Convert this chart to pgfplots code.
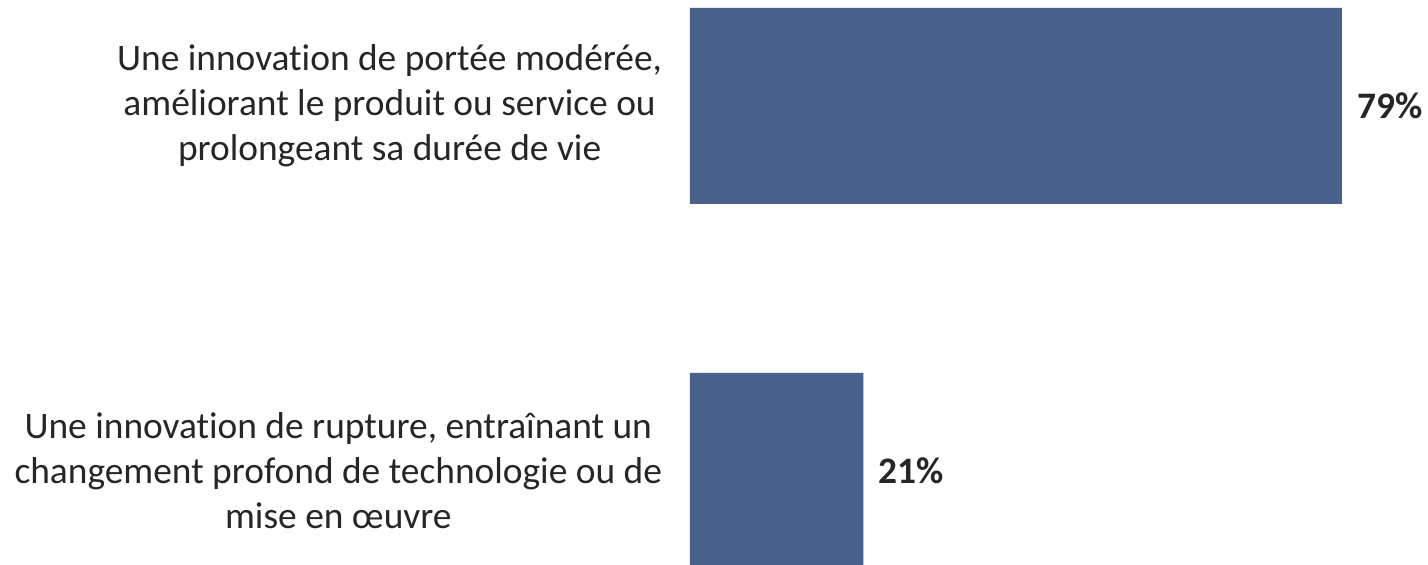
\documentclass[border=0pt]{standalone}
\usepackage{pgfplots}
\pgfplotsset{compat=1.18}
\usepackage{fontspec}
\setmainfont{Carlito}[RawFeature=-liga]
\definecolor{barblue}{HTML}{4A618B}
\definecolor{txt}{HTML}{262626}

\begin{document}
\begin{tikzpicture}
\begin{axis}[
  xbar, scale only axis,
  width=369pt, height=282pt,
  xmin=0, xmax=89.45,
  ymin=-0.29, ymax=1.255, y dir=reverse,
  axis line style={draw=none},
  tick style={draw=none},
  xtick=\empty,
  ytick={0,1},
  /pgf/number format/assume math mode=true,
  yticklabels={{Une innovation de portée modérée,\\améliorant le produit ou service ou\\prolongeant sa durée de vie},
               {Une innovation de rupture, entraînant un\\changement profond de technologie ou de\\mise en œuvre}},
  yticklabel style={align=center, text=txt, inner sep=0pt, xshift=-9.5pt,
    font=\fontsize{18.7}{22.5}\selectfont},
  bar width=0.537,
  nodes near coords={\pgfmathprintnumber{\pgfplotspointmeta}\%},
  every node near coord/.append style={anchor=west, inner sep=0pt, xshift=7.5pt,
    text=txt, font=\fontsize{18.7}{22.5}\selectfont\bfseries},
]
\addplot[fill=barblue, draw=none] coordinates {(79,0) (21,1)};
\end{axis}
\pgfresetboundingbox
\path (current axis.south west) ++(-345pt,0) rectangle (current axis.north east);
\end{tikzpicture}
\end{document}
